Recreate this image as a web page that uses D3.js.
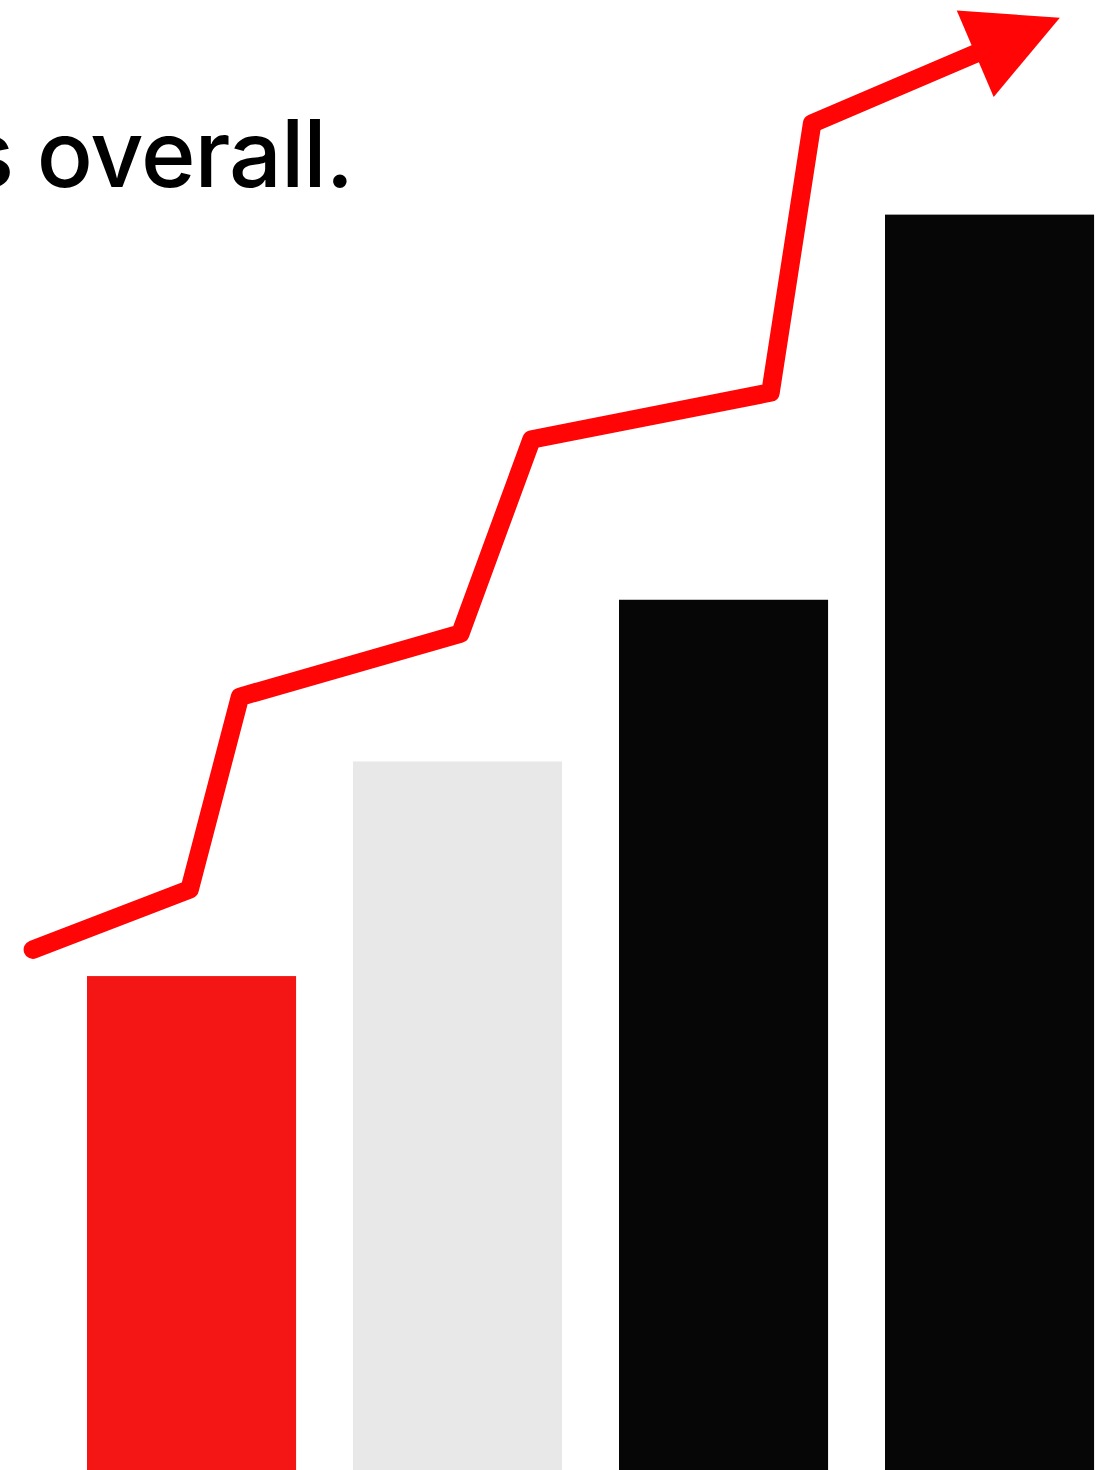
<!DOCTYPE html>
<html>
<head>
<meta charset="utf-8">
<script src="https://cdn.jsdelivr.net/npm/d3@7"></script>
<style>
  body { margin: 0; background: #fff; overflow: hidden; }
  svg { display: block; }
</style>
</head>
<body>
<svg id="chart" width="1096" height="1470"></svg>
<script>
// bars
const categories = ["A", "B", "C", "D"];
const barValues = [33.6, 48.2, 59.2, 85.4];
const barColors = ["#f41515", "#e8e8e8", "#060606", "#060606"];

// trend line (last point = arrow tip)
const lineX = [3.0, 17.3, 21.9, 42.0, 48.5, 70.3, 74.1, 96.7];
const lineY = [35.4, 39.5, 52.6, 56.9, 70.1, 73.3, 91.6, 98.8];

const caption = "s overall.";

let width = 1096, height = 1470;
let svg = d3.select("#chart");

let y = d3.scaleLinear().domain([0, 100]).range([height, 0]);
let step = 266;
let x = d3.scaleBand()
  .domain(categories)
  .range([87 - 0.107 * step, 87 - 0.107 * step + 4 * step])
  .paddingInner(0.214)
  .paddingOuter(0.107);
let xl = d3.scaleLinear().domain([0, 100]).range([0, width]);

svg.selectAll(".bar")
  .data(categories)
  .enter().append("rect")
  .attr("class", "bar")
  .attr("x", d => x(d))
  .attr("width", x.bandwidth())
  .attr("y", (d, i) => y(barValues[i]))
  .attr("height", (d, i) => height - y(barValues[i]))
  .attr("fill", (d, i) => barColors[i]);

// caption, partly off the left edge (as in the source)
svg.append("text")
  .attr("x", 353)
  .attr("y", 187)
  .attr("text-anchor", "end")
  .style("font-family", "Inter, 'Noto Sans', sans-serif")
  .style("font-weight", 500)
  .style("font-size", "93px")
  .style("letter-spacing", "-1px")
  .attr("fill", "#000")
  .text(caption);

// line + arrow head
let pts = lineX.map((v, i) => [xl(v), y(lineY[i])]);
let tip = pts[pts.length - 1], prev = pts[pts.length - 2];
let ang = Math.atan2(tip[1] - prev[1], tip[0] - prev[0]);
let headLen = 92, headHalf = 47;
let base = [tip[0] - headLen * Math.cos(ang), tip[1] - headLen * Math.sin(ang)];

let linePts = pts.slice(0, -1).concat([base]);
svg.append("path")
  .attr("d", d3.line()(linePts))
  .attr("fill", "none")
  .attr("stroke", "#ff0505")
  .attr("stroke-width", 18.5)
  .attr("stroke-linejoin", "round")
  .attr("stroke-linecap", "round");

let nx = -Math.sin(ang), ny = Math.cos(ang);
let head = [
  tip,
  [base[0] + nx * headHalf, base[1] + ny * headHalf],
  [base[0] - nx * headHalf, base[1] - ny * headHalf]
];
svg.append("path")
  .attr("d", d3.line()(head) + "Z")
  .attr("fill", "#ff0505");
</script>
</body>
</html>
